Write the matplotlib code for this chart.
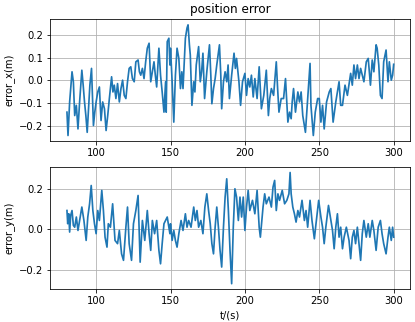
import matplotlib
matplotlib.use("Agg")
import matplotlib.pyplot as plt
import numpy as np

# error_x keypoints
t_x = [80.4, 81.1, 82.2, 83.8, 84.7, 85.6, 86.7, 87.8, 88.9, 90.4, 91.3, 92.2, 93.1, 94.0,
       94.9, 95.8, 96.9, 97.6, 98.2, 99.1, 100.0, 101.1, 102.2, 103.3, 104.4, 105.6, 106.7,
       107.8, 108.9, 110.4, 111.3, 112.2, 113.3, 114.4, 115.6, 116.7, 117.8, 118.9, 120.0,
       121.1, 122.2, 123.3, 124.4, 125.6, 126.7, 128.2, 129.1, 130.0, 131.1, 132.2, 133.3,
       134.4, 135.6, 136.7, 137.8, 138.9, 139.8, 140.7, 142.2, 143.3, 144.4, 145.6, 146.7,
       147.1, 147.8, 148.9, 149.6,
       150.0, 151.1, 152.2, 153.3, 154.4, 155.6, 156.7, 157.6, 158.4, 160.0, 161.1, 161.8,
       162.7, 163.3, 164.4, 165.6, 166.4, 167.3, 168.9, 170.0, 170.9, 171.8, 172.9, 174.4,
       175.3, 176.2, 177.1, 177.8, 178.9, 180.0, 181.1, 182.9, 183.8, 184.4, 185.6, 186.7,
       187.8, 188.7, 189.6, 191.1, 192.7, 193.6, 194.4, 196.0, 197.1, 198.4, 200.0, 201.1,
       202.2, 203.3, 204.4, 205.6, 206.7, 208.2, 209.6, 211.1, 212.7, 214.4, 215.8, 216.7,
       217.8, 219.3, 221.1, 222.0, 222.9, 224.4, 226.0, 227.3, 228.9,
       230.0, 231.1, 231.8, 232.7, 234.0, 235.6, 236.7, 237.8, 238.9, 240.7, 242.2, 243.8,
       244.4, 246.0, 247.3, 248.9, 250.0, 251.1, 252.2, 253.3, 254.9, 256.7, 257.8, 259.3,
       261.1, 263.3, 264.4, 265.6, 267.3, 268.9, 271.1, 272.2, 273.3, 274.4, 275.6, 276.7,
       277.8, 280.0, 281.6, 282.9, 284.4, 285.6, 286.7, 288.2, 288.9, 290.0, 291.1, 292.2,
       293.3, 294.9, 296.2, 297.1, 298.4, 299.3, 300.0]
err_x = [-0.141, -0.244, -0.096, 0.037, -0.007, -0.156, -0.111, -0.215, -0.096, 0.044, -0.022,
         -0.096, -0.156, -0.230, -0.126, -0.022, 0.052, -0.081, -0.200, -0.141, -0.096, -0.052,
         -0.030, -0.178, -0.096, -0.126, -0.222, -0.156, -0.081, 0.015, -0.052, -0.022, -0.081,
         -0.015, -0.096, -0.037, 0.000, -0.067, -0.081, -0.007, 0.052, 0.059, 0.007, -0.007,
         0.081, 0.089, 0.037, 0.022, 0.052, 0.007, 0.081, 0.141, 0.163, -0.007, 0.037, 0.081,
         0.022, -0.030, 0.141, 0.022, -0.052, -0.141, -0.007, -0.141, 0.170, 0.185, 0.067,
         0.141, -0.007, -0.185, 0.022, 0.141, 0.096, -0.037, 0.037, -0.037, 0.185, 0.230, 0.244,
         0.156, 0.111, -0.111, -0.007, -0.052, 0.067, 0.148, -0.007, 0.037, 0.119, -0.081,
         0.037, 0.096, 0.156, 0.022, -0.104, -0.037, 0.007, 0.067, 0.156, 0.022, -0.126,
         -0.007, 0.037, -0.007, 0.067, -0.081, 0.022, 0.119, 0.052, 0.096, -0.007, -0.111,
         -0.007, 0.030, -0.067, 0.007, -0.030, 0.022, -0.074, 0.007, -0.081, 0.059, -0.126,
         -0.067, 0.044, -0.156, -0.081, -0.037, -0.067, 0.081, -0.037, -0.141, -0.081, -0.081,
         0.007, -0.185,
         -0.141, -0.170, -0.096, -0.037, -0.141, -0.052, -0.096, -0.052, -0.156, -0.230,
         -0.081, 0.074, -0.111, -0.244, -0.141, -0.081, -0.081, -0.185, -0.111, -0.215,
         -0.096, -0.052, -0.037, -0.185, -0.096, -0.007, -0.111, -0.111, -0.022, -0.067,
         0.030, -0.022, 0.067, 0.007, 0.067, 0.007, 0.052, -0.007, 0.081, 0.096, -0.022,
         0.089, 0.037, 0.156, 0.141, 0.067, -0.067, -0.081, 0.081, 0.133, -0.007, 0.081,
         0.000, 0.022, 0.070]

# error_y keypoints
t_y = [80.4, 80.9, 81.6, 82.2, 82.9, 83.8, 84.7, 85.6, 86.7, 87.8, 88.9, 90.4, 91.8, 93.3,
       94.4, 95.6, 96.7, 97.8, 98.9, 100.0, 101.1, 102.2, 103.8, 104.9, 106.0, 107.3, 108.2,
       109.6, 111.1, 112.7, 114.4, 115.6, 117.1, 118.4, 120.0, 121.1, 122.2, 123.8, 125.1,
       126.7, 128.2, 129.6, 131.1, 132.7, 134.4, 135.6, 136.7, 137.8, 139.3, 140.7, 142.2,
       143.3, 144.4, 145.6, 146.7, 147.8, 149.6,
       150.0, 151.1, 152.2, 153.3, 154.4, 155.6, 157.1, 158.4, 160.0, 161.1, 162.2, 163.8,
       165.6, 166.7, 167.8, 168.9, 170.4, 171.8, 173.1, 174.4, 175.6, 176.7, 177.8, 178.9,
       180.0, 181.1, 182.2, 183.3, 184.4, 185.6, 186.7, 187.8, 188.9, 190.0, 191.1, 192.2,
       193.3, 194.4, 195.6, 196.7, 197.8, 198.9, 200.0, 201.1, 202.2, 203.3, 205.1, 206.7,
       208.2, 209.6, 210.4, 212.2, 213.3, 214.4, 216.2, 217.8, 218.9, 220.0, 221.1, 222.2,
       223.3, 225.1, 226.7, 228.2, 229.6,
       230.4, 231.1, 232.2, 233.3, 234.4, 235.6, 236.7, 238.4, 240.0, 241.1, 242.2, 243.8,
       245.1, 246.7, 247.8, 249.6, 251.1, 252.2, 253.3, 254.4, 256.2, 257.8, 258.9, 260.0,
       261.1, 262.2, 263.3, 264.4, 265.6, 266.7, 268.2, 270.0, 271.1, 272.2, 273.3, 274.4,
       275.6, 276.7, 277.8, 278.9, 280.0, 281.6, 282.9, 284.0, 285.6, 286.7, 288.2, 289.6,
       291.1, 292.2, 293.3, 294.9, 296.2, 297.1, 298.4, 299.3, 300.0]
err_y = [0.093, 0.028, 0.077, -0.013, 0.069, 0.093, 0.020, 0.011, 0.061, -0.005, 0.044, 0.110,
         0.044, -0.054, 0.061, 0.126, 0.216, 0.093, 0.028, -0.021, 0.093, 0.044, 0.192, 0.093,
         -0.038, -0.087, 0.028, 0.011, 0.126, -0.054, -0.070, -0.005, -0.120, -0.152, 0.011,
         0.110, -0.070, -0.152, 0.028, 0.093, 0.167, -0.161, 0.044, -0.054, 0.093, -0.021,
         -0.103, 0.044, -0.021, 0.044, -0.103, -0.169, -0.070, 0.028, 0.044, 0.061, -0.021,
         0.028, -0.054, -0.005, -0.054, -0.087, -0.021, 0.044, -0.005, 0.077, 0.011, 0.044,
         0.011, 0.110, 0.044, 0.093, 0.011, 0.044, -0.021, 0.110, 0.175, 0.093, 0.028, -0.070,
         -0.120, 0.011, 0.110, 0.011, -0.103, -0.185, 0.011, 0.159, 0.249, 0.093, -0.103,
         -0.267, 0.011, 0.200, 0.159, 0.044, 0.159, 0.061, 0.159, -0.005, 0.110, 0.192, 0.093,
         0.143, 0.077, 0.192, 0.011, -0.038, 0.110, 0.175, 0.126, 0.159, 0.110, 0.208, 0.241,
         0.093, 0.175, 0.143, 0.192, 0.126, 0.143, 0.175,
         0.280, 0.175, 0.110, 0.077, 0.036, 0.093, 0.061, 0.143, 0.044, 0.093, 0.011, 0.143,
         0.044, -0.046, 0.028, 0.143, 0.061, 0.011, -0.070, 0.011, 0.118, 0.044, -0.005,
         -0.095, 0.011, 0.077, -0.038, 0.011, -0.095, -0.038, 0.011, -0.054, -0.144, -0.038,
         -0.005, -0.070, 0.011, -0.070, -0.152, -0.021, 0.044, -0.038, 0.028, -0.038, 0.044,
         -0.005, -0.103, 0.011, 0.044, -0.021, -0.070, -0.120, -0.038, 0.011, -0.054, 0.011,
         -0.038]

fig = plt.figure(figsize=(415 / 72, 322 / 72), dpi=72)
ax1 = fig.add_axes([0.1205, 0.562, 0.8675, 0.378])
ax2 = fig.add_axes([0.1205, 0.1016, 0.8675, 0.380])

ax1.plot(t_x, err_x, color='#1f77b4', lw=1.7)
ax1.set_ylabel('error_x(m)')
ax1.set_title('position error')
ax1.set_yticks([-0.2, -0.1, 0.0, 0.1, 0.2])
ax1.grid(True)

ax2.plot(t_y, err_y, color='#1f77b4', lw=1.7)
ax2.set_ylabel('error_y(m)')
ax2.set_xlabel('t/(s)')
ax2.set_yticks([-0.2, 0.0, 0.2])
ax2.grid(True)

for ax in (ax1, ax2):
    ax.set_xlim(69, 311)
    ax.set_xticks([100, 150, 200, 250, 300])

fig.savefig('out.png', dpi=72)
